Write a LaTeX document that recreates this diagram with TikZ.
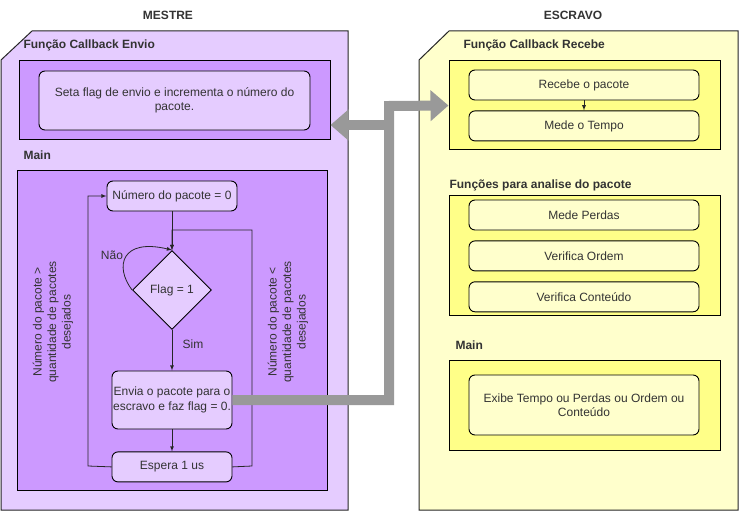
\documentclass[tikz,border=0pt]{standalone}
\usepackage{fontspec}
\setmainfont{Liberation Sans}
\usetikzlibrary{positioning,shapes.geometric}
\usetikzlibrary{arrows,arrows.meta}
\definecolor{lilac}{HTML}{E5CCFF}
\definecolor{violet}{HTML}{CC99FF}
\definecolor{cream}{HTML}{FFFFCC}
\definecolor{lemon}{HTML}{FFFF88}
\definecolor{pipe}{HTML}{999999}
\definecolor{ink}{HTML}{333333}

\begin{document}
\begin{tikzpicture}[x=1pt,y=-1pt,font=\fontsize{12}{14.5}\selectfont,text=ink]
\tikzstyle{box}=[rectangle, draw=black, line width=1pt, inner sep=0pt]
\tikzstyle{main}=[rectangle, rounded corners=6pt, draw=black, line width=0.9pt, inner sep=1pt, align=center]
\tikzstyle{connect}=[-latex, thick, draw=black!85]
\tikzstyle{head}=[font=\fontsize{12}{14.5}\selectfont\bfseries, anchor=west]
\tikzstyle{big}=[line width=10pt, draw=pipe, line join=miter, -{Triangle[width=30pt,length=18pt]}]
\useasboundingbox (0,0) rectangle (740,511);

  \fill[white] (0,0) rectangle (740,511);
  \draw[fill=lilac, draw=black!85, line width=1pt] (1,60) -- (32,31) -- (348,31) -- (348,510) -- (1,510) -- cycle;
  \draw[fill=cream, draw=black!85, line width=1pt] (419,60) -- (449,31) -- (738,31) -- (738,510) -- (419,510) -- cycle;
  \node[font=\fontsize{12}{14.5}\selectfont\bfseries] (mestre) at (168,15) {MESTRE};
  \node[font=\fontsize{12}{14.5}\selectfont\bfseries] (escravo) at (573,15) {ESCRAVO};

  \node[head] (envio) at (20,45) {Função Callback Envio};
  \node[box, fill=violet, minimum width=311pt, minimum height=79pt] (cbox) at (174.5,100.5) {};
  \node[main, fill=lilac, minimum width=271pt, minimum height=59pt] (seta) at (174.5,100.5) {Seta flag de envio e incrementa o número do\\pacote.};

  \node[head] (mainl) at (20,155) {Main};
  \node[box, fill=violet, minimum width=310pt, minimum height=320pt] (mainbox) at (172,330) {};
  \node[main, fill=lilac, minimum width=130pt, minimum height=30pt] (numero) at (172,196) {Número do pacote = 0};
  \node[diamond, draw=black, line width=0.9pt, fill=lilac, minimum size=79pt, inner sep=0pt] (flag) at (172,290) {Flag = 1};
  \node[main, fill=lilac, minimum width=120pt, minimum height=58pt, inner sep=0pt] (envia) at (172,400) {Envia o pacote para o\\escravo e faz flag = 0.};
  \node[main, fill=lilac, minimum width=120pt, minimum height=30pt, below=22pt of envia] (espera) {Espera 1 us};

  \coordinate (lup) at (88,466);
  \coordinate (rup) at (252,466);
  \path (numero) edge [connect] (flag);
  \path (flag) edge [connect] (envia);
  \path (envia) edge [connect] (espera);
  \draw[connect] (espera.west) -- (lup) |- (numero.west);
  \draw[connect] (espera.east) -- (rup) |- (172,230) -- (flag.north);
  \draw[connect] (flag.west) .. controls (114,266) and (122,238) .. (flag.north);
  \node (nao) at (112,255) {Não};
  \node (sim) at (193,344) {Sim};
  \node[rotate=90, align=center] (maior) at (53,322) {Número do pacote >\\quantidade de pacotes\\desejados};
  \node[rotate=90, align=center] (menor) at (288,322) {Número do pacote <\\quantidade de pacotes\\desejados};

  \node[head] (recebel) at (460,45) {Função Callback Recebe};
  \node[box, fill=lemon, minimum width=271pt, minimum height=89pt] (rcb) at (584.5,105.5) {};
  \node[main, fill=cream, minimum width=230pt, minimum height=30pt] (recebe) at (584,85) {Recebe o pacote};
  \node[main, fill=cream, minimum width=230pt, minimum height=30pt, below=10pt of recebe] (tempo) {Mede o Tempo};
  \path (recebe) edge [connect] (tempo);

  \node[head] (analise) at (446,185) {Funções para analise do pacote};
  \node[box, fill=lemon, minimum width=271pt, minimum height=120pt] (fbox) at (584.5,255) {};
  \node[main, fill=cream, minimum width=230pt, minimum height=30pt] (perdas) at (584,215) {Mede Perdas};
  \node[main, fill=cream, minimum width=230pt, minimum height=30pt, below=10pt of perdas] (ordem) {Verifica Ordem};
  \node[main, fill=cream, minimum width=230pt, minimum height=30pt, below=10pt of ordem] (conteudo) {Verifica Conteúdo};

  \node[head] (mainr) at (452,345) {Main};
  \node[box, fill=lemon, minimum width=271pt, minimum height=90pt] (mbox) at (584.5,405) {};
  \node[main, fill=cream, minimum width=230pt, minimum height=60pt] (exibe) at (584,405) {Exibe Tempo ou Perdas ou Ordem ou\\Conteúdo};

  \coordinate (turn) at (389,400);
  \coordinate (split) at (389,125);
  \draw[big] (envia.east) -- (turn) -- (389,106) -- (rcb.west);
  \draw[big] (split) -- (split -| cbox.east);
\end{tikzpicture}
\end{document}
